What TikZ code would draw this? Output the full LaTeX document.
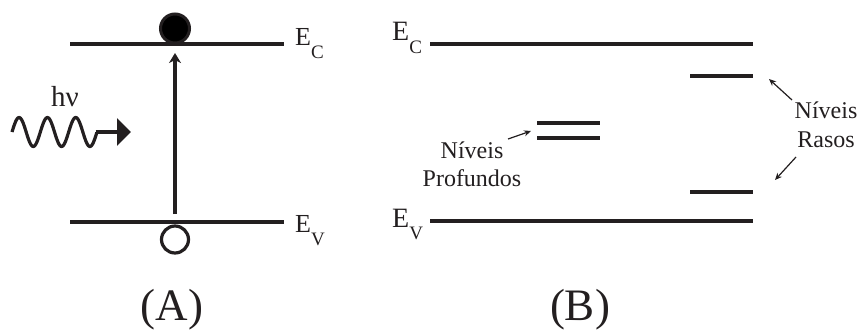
\documentclass[tikz,border=0pt]{standalone}
\usepackage{fontspec}
\setmainfont{Liberation Serif}
\usetikzlibrary{arrows.meta}
\definecolor{ink}{HTML}{231F20}
\tikzset{
  level/.style={line width=3.4bp, draw=ink},
  shallow/.style={line width=3.8bp, draw=ink},
  lbl/.style={inner sep=0pt, anchor=base west, text=ink},
  txt/.style={inner sep=0pt, anchor=base, text=ink, font=\fontsize{24bp}{28bp}\selectfont},
  big/.style={inner sep=0pt, anchor=base, text=ink, font=\fontsize{45bp}{50bp}\selectfont},
  thinarrow/.style={draw=ink, line width=1.2bp, -{Stealth[length=7bp,width=6bp]}},
}
\newcommand{\Elbl}[3]{{\fontsize{#1bp}{#1bp}\selectfont E}\raisebox{-#3bp}{\fontsize{19bp}{20bp}\selectfont #2}}
\begin{document}
\begin{tikzpicture}[x=1bp,y=-1bp]
\useasboundingbox (0,0) rectangle (858,331);
% ---------- Panel A ----------
\coordinate (aECl) at (70,44);  \coordinate (aECr) at (284,44);
\coordinate (aEVl) at (70,222); \coordinate (aEVr) at (284,222);
\draw[level] (aECl) -- (aECr);
\draw[level] (aEVl) -- (aEVr);
\node[lbl] (aEC) at (295,45) {\Elbl{26}{C}{13}};
\node[lbl] (aEV) at (295,232) {\Elbl{26}{V}{13}};
% electron and hole
\node[circle, draw=ink, fill=black, line width=3bp, minimum size=29bp, inner sep=0pt] (el) at (175,28.5) {};
\node[circle, draw=ink, fill=white, line width=3.2bp, minimum size=27bp, inner sep=0pt] (hole) at (175,239.5) {};
\coordinate (arrbot) at (175,214);
\coordinate (arrtop) at (175,53);
\draw[draw=ink, line width=3.2bp, -{Stealth[length=10bp,width=12bp,inset=3bp]}] (arrbot) -- (arrtop);
% photon
\node[inner sep=0pt, anchor=base, text=ink, font=\fontsize{29bp}{32bp}\selectfont] (hv) at (65,106) {hν};
\coordinate (wend) at (97,132);
\coordinate (wtip) at (131,132);
\draw[draw=ink, line width=3.2bp, line join=round, domain=0:1, samples=120, smooth]
  plot ({12+85*\x}, {132-14.5*sin(3*360*\x)});
\draw[draw=ink, line width=3.2bp, -{Triangle[length=14bp,width=27bp]}] ([xshift=-1.5bp]wend) -- (wtip);
\node[big] (A) at (172,320) {(A)};
% ---------- Panel B ----------
\coordinate (bECl) at (430,44);  \coordinate (bECr) at (753,44);
\coordinate (bEVl) at (430,221); \coordinate (bEVr) at (753,221);
\draw[level] (bECl) -- (bECr);
\draw[level] (bEVl) -- (bEVr);
\node[lbl] (bEC) at (392,40) {\Elbl{28}{C}{13}};
\node[lbl] (bEV) at (392,227) {\Elbl{28}{V}{12}};
% shallow levels
\draw[shallow] (690,76) -- (753,76);
\draw[shallow] (690,192) -- (753,192);
% deep levels
\draw[shallow] (537,123) -- (600,123);
\draw[shallow] (537,138) -- (600,138);
% labels
\node[txt] (nivL) at (472,158) {Níveis};
\node[txt] (prof) at (472,186) {Profundos};
\node[txt] (nivR) at (826,118) {Níveis};
\node[txt] (rasos) at (826,147) {Rasos};
\coordinate (deepA) at (531,131);
\coordinate (shA) at (769,79);
\coordinate (shB) at (775,180);
\draw[thinarrow] (508,139) -- (deepA);
\draw[thinarrow] (792,100) -- (shA);
\draw[thinarrow] (796,157) -- (shB);
\node[big] (B) at (580,320) {(B)};
\end{tikzpicture}
\end{document}
